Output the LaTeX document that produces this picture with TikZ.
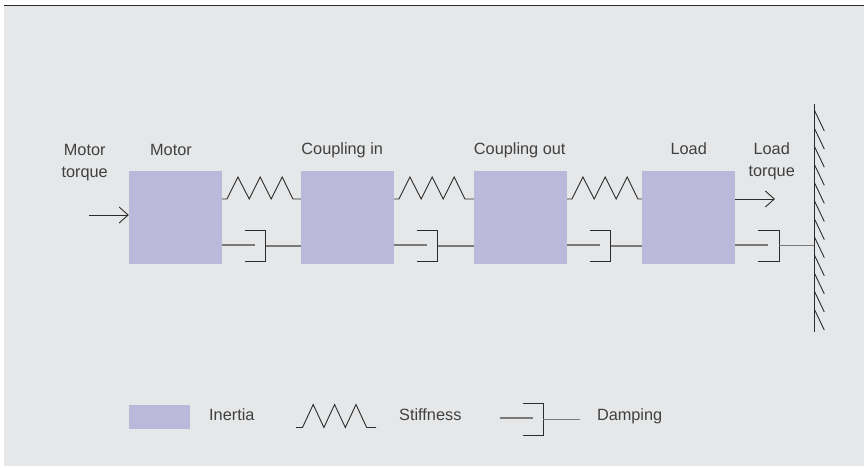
\documentclass[tikz,border=0pt]{standalone}
\usepackage{fontspec}
\setmainfont{Liberation Sans}
\usetikzlibrary{arrows.meta,calc}
\definecolor{bg}{HTML}{E6E7E8}
\definecolor{inert}{HTML}{BAB8DB}
\definecolor{ln}{HTML}{2B2B2B}
\definecolor{rod}{HTML}{7A7A7A}
\definecolor{txt}{HTML}{404040}
\begin{document}
\begin{tikzpicture}[x=1pt,y=-1pt,
 inertia/.style={fill=inert, draw=none, minimum width=93pt, minimum height=93pt, inner sep=0pt},
 lbl/.style={font=\fontsize{16.3}{22}\selectfont, text=txt, inner sep=0pt, anchor=base},
 spr/.style={draw=ln, line width=0.9pt, line join=miter},
 rodl/.style={draw=rod, line width=1.3pt},
 cup/.style={draw=ln, line width=0.9pt},
 arr/.style={draw=ln, line width=0.9pt, -{Straight Barb[length=9pt,width=16pt]}}]
\useasboundingbox (0,0) rectangle (864,467);
\fill[bg] (4,6) rectangle (864,466);
\draw[ln, line width=1.5pt] (4,5.5) -- (864,5.5);
% inertias
\node[inertia] (m) at (175.5,217.5) {};
\node[inertia] (ci) at (347.5,217.5) {};
\node[inertia] (co) at (520.5,217.5) {};
\node[inertia] (ld) at (688.5,217.5) {};
% springs and dampers
\foreach \a/\b in {m/ci,ci/co,co/ld}{
 \draw[spr] ([yshift=18.5pt]\a.east) -- ++(4.7,0) -- ++(11,-22) -- ++(11.3,22) -- ++(11,-22) -- ++(11,22) -- ++(11,-22) -- ++(10.7,22) -- ([yshift=18.5pt]\b.west);
 \draw[rodl] ([yshift=-27.5pt]\a.east) -- ++(32.3,0);
 \draw[cup] ($(\a.east)+(22.3,12.5)$) -- ++(21,0) -- ++(0,31) -- ++(-21,0);
 \draw[rodl] ($(\a.east)+(43.3,28.5)$) -- ([yshift=-28.5pt]\b.west);
}
% wall
\coordinate (wt) at (814.3,104);
\coordinate (wb) at (814.3,332);
\coordinate (wd) at (814.3,245.5);
\draw[cup] (wt) -- (wb);
\foreach \k in {0,...,11} \draw[cup] ($(wt)+(0,6+18.1*\k)$) -- ++(10,21);
% load damper
\draw[rodl] ([yshift=-27.5pt]ld.east) -- ++(32.7,0);
\draw[cup] ($(ld.east)+(22.3,13)$) -- ++(21.7,0) -- ++(0,30.5) -- ++(-21.7,0);
\draw[rodl] ($(ld.east)+(44,28)$) -- (wd);
% torques
\coordinate (mt) at (89,215);
\draw[arr] (mt) -- (m.west |- mt);
\coordinate (lt) at (775,199);
\draw[arr] ([yshift=18.5pt]ld.east) -- (lt);
% labels
\node[lbl] (mtl1) at (84.7,155) {Motor};
\node[lbl] (mtl2) at (84.7,177) {torque};
\node[lbl] (ml) at (171,155) {Motor};
\node[lbl] (cil) at (342.2,154.5) {Coupling in};
\node[lbl] (col) at (519.7,154.5) {Coupling out};
\node[lbl] (ldl) at (688.7,154.5) {Load};
\node[lbl] (ltl1) at (771.7,154.5) {Load};
\node[lbl] (ltl2) at (771.7,176.5) {torque};
% legend
\node[inertia, minimum width=60.7pt, minimum height=24pt] (li) at (159.2,417) {};
\node[lbl, anchor=base west] (lit) at (209,420.4) {Inertia};
\coordinate (ls) at (296,427.5);
\draw[spr] (ls) -- ++(6.5,0) -- ++(10.7,-23) -- ++(10.7,23) -- ++(10.7,-23) -- ++(10.7,23) -- ++(10.7,-23) -- ++(10.7,23) -- ++(9.3,0);
\node[lbl, anchor=base west] (lst) at (399,420.4) {Stiffness};
\coordinate (lda) at (499.6,418);
\coordinate (ldb) at (543.2,419.6);
\draw[rodl] (lda) -- ++(32.9,0);
\draw[cup] (522.5,403.6) -- (543.2,403.6) -- (543.2,435.7) -- (522.5,435.7);
\draw[rodl] (ldb) -- ++(36.4,0);
\node[lbl, anchor=base west] (ldt) at (596.8,420.4) {Damping};
\end{tikzpicture}
\end{document}
